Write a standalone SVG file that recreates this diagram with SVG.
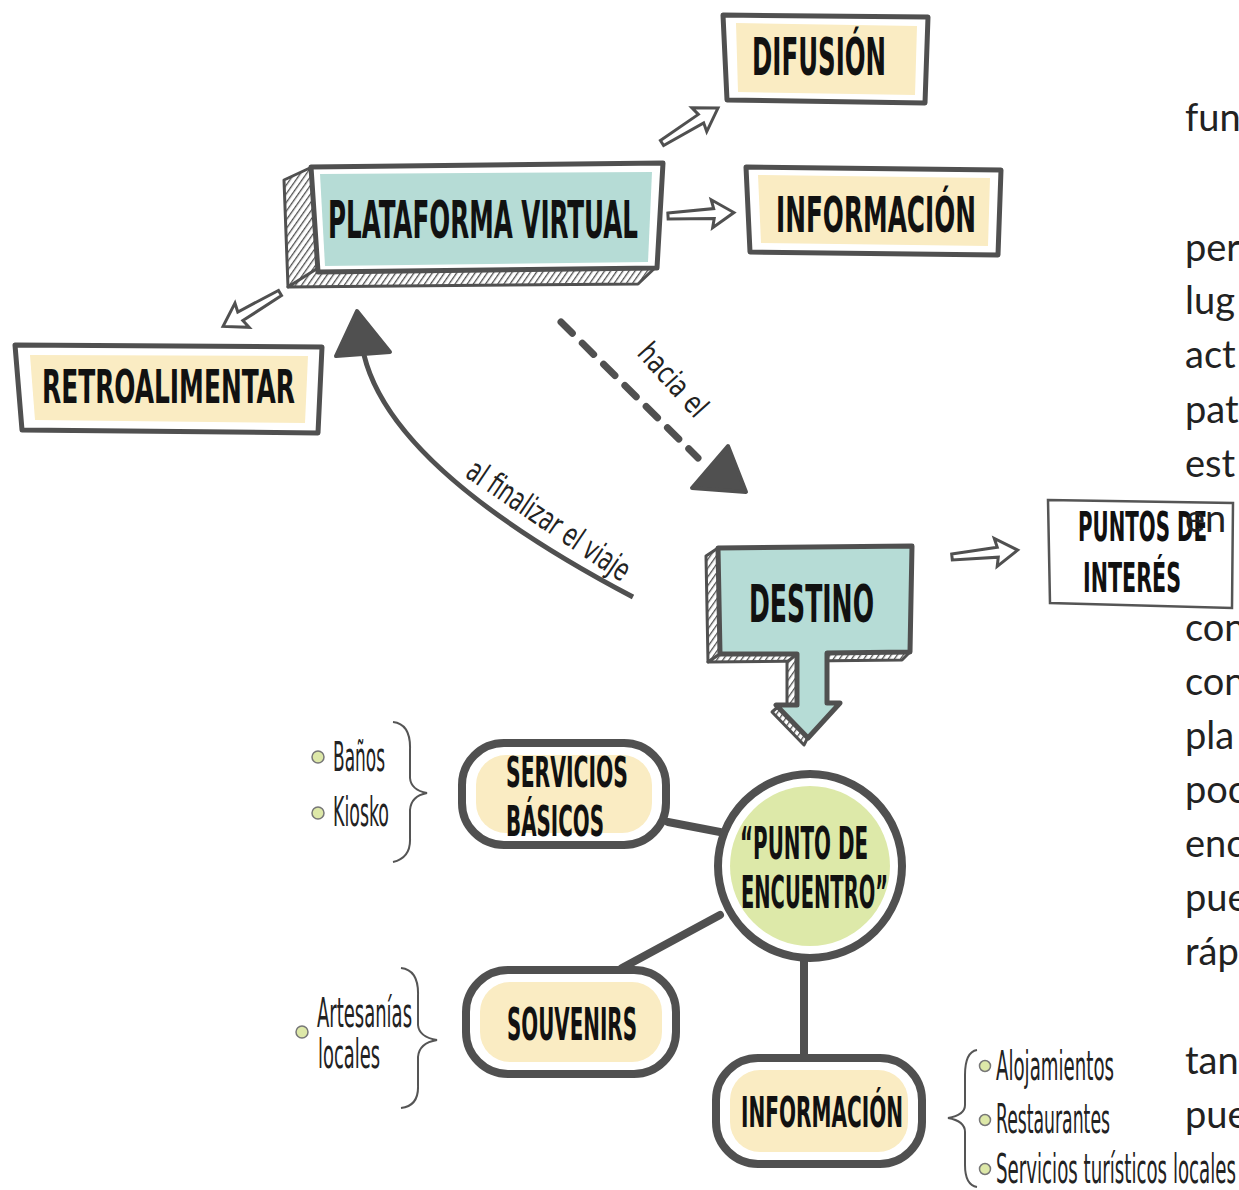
<svg xmlns="http://www.w3.org/2000/svg" width="1239" height="1190" viewBox="0 0 1239 1190">
<style>
.ol{fill:#fff;stroke:#505050;stroke-width:5;stroke-linejoin:round}
.olt{fill:#B6DCD6;stroke:#505050;stroke-width:5;stroke-linejoin:round}
.teal{fill:#B6DCD6}
.beige{fill:#FAECC3}
.hat{fill:url(#hatch);stroke:#505050;stroke-width:3;stroke-linejoin:round}
.lbl{font-family:"Liberation Sans Narrow","DejaVu Sans Condensed","Liberation Sans",sans-serif;font-weight:bold;fill:#111}
.hand{font-family:"Liberation Sans Narrow","DejaVu Sans Condensed","Liberation Sans",sans-serif;fill:#222}
.body{font-family:"Lato","Noto Sans",sans-serif;font-size:38px;fill:#222}
.rn{fill:#fff;stroke:#505050;stroke-width:8}
.con{stroke:#505050;stroke-width:8;fill:none;stroke-linecap:round}
.harrow{fill:#fff;stroke:#505050;stroke-width:3;stroke-linejoin:miter}
.brace{fill:none;stroke:#555;stroke-width:2}
.bul{fill:#DDE8A8;stroke:#777;stroke-width:1.5}
</style>
<defs>
<pattern id="hatch" patternUnits="userSpaceOnUse" width="5" height="5" patternTransform="rotate(35)">
<rect width="5" height="5" fill="#fff"/>
<line x1="0" y1="0" x2="0" y2="5" stroke="#505050" stroke-width="2.6"/>
</pattern>
<path id="ha" d="M0,-3 L46,-5 L44,-14 L66,0 L44,14 L46,5 L0,3 Z"/>
</defs>

<!-- right body text (clipped) -->
<g id="bodytext" class="body">
<text x="1185" y="131">fun</text>
<text x="1185" y="261">per</text>
<text x="1185" y="314">lug</text>
<text x="1185" y="368">act</text>
<text x="1185" y="423">pat</text>
<text x="1185" y="477">est</text>
<text x="1185" y="641">con</text>
<text x="1185" y="695">con</text>
<text x="1185" y="749">pla</text>
<text x="1185" y="803">poc</text>
<text x="1185" y="857">enc</text>
<text x="1185" y="911">pue</text>
<text x="1185" y="965">ráp</text>
<text x="1185" y="1074">tan</text>
<text x="1185" y="1128">pue</text>
</g>

<g id="connectors">
<use href="#ha" class="harrow" transform="translate(662,143) rotate(-32)"/>
<use href="#ha" class="harrow" transform="translate(668,216) rotate(-3)"/>
<use href="#ha" class="harrow" transform="translate(280,293) rotate(149.6)"/>
<use href="#ha" class="harrow" transform="translate(952,557) rotate(-6)"/>
<!-- dashed -->
<path d="M561,322 L698,458" stroke="#505050" stroke-width="7" stroke-dasharray="16,14" stroke-linecap="round" fill="none"/>
<path d="M728,446 L746,492 L692,488 Z" fill="#505050" stroke="#505050" stroke-width="4" stroke-linejoin="round"/>
<text class="hand" font-size="30" textLength="88" lengthAdjust="spacingAndGlyphs" transform="translate(636,354) rotate(48)">hacia el</text>
<!-- curved -->
<path d="M633,597 Q392,470 364,355" stroke="#505050" stroke-width="5" fill="none"/>
<path d="M357,311 L390,352 L336,356 Z" fill="#505050" stroke="#505050" stroke-width="4" stroke-linejoin="round"/>
<text class="hand" font-size="32" textLength="190" lengthAdjust="spacingAndGlyphs" transform="translate(464,476) rotate(34)">al finalizar el viaje</text>
<!-- punto connectors -->
<line class="con" x1="668" y1="822" x2="720" y2="832"/>
<line class="con" x1="622" y1="968" x2="720" y2="915"/>
<line class="con" x1="804" y1="960" x2="804" y2="1058"/>
</g>

<g id="plataforma">
<polygon class="hat" points="284,180 312,167 318,270 288,287"/>
<polygon class="hat" points="288,287 318,268 657,266 638,284"/>
<polygon class="ol" points="311,167 663,163 657,268 318,272"/>
<polygon class="teal" points="320,174 652,172 648,262 325,266"/>
<text class="lbl" x="328" y="238" font-size="52" textLength="310" lengthAdjust="spacingAndGlyphs">PLATAFORMA VIRTUAL</text>
</g>

<g id="difusion">
<polygon class="ol" points="723,15 928,17 925,103 727,100"/>
<polygon class="beige" points="736,23 917,26 915,95 738,92"/>
<text class="lbl" x="752" y="75" font-size="51" textLength="134" lengthAdjust="spacingAndGlyphs">DIFUSIÓN</text>
</g>

<g id="informacion-top">
<polygon class="ol" points="746,167 1001,170 998,255 750,252"/>
<polygon class="beige" points="758,175 990,178 988,246 761,243"/>
<text class="lbl" x="776" y="232" font-size="50" textLength="200" lengthAdjust="spacingAndGlyphs">INFORMACIÓN</text>
</g>

<g id="retroalimentar">
<polygon class="ol" points="15,345 322,347 318,433 22,430"/>
<polygon class="beige" points="30,355 308,356 305,423 35,420"/>
<text class="lbl" x="42" y="403" font-size="46" textLength="253" lengthAdjust="spacingAndGlyphs">RETROALIMENTAR</text>
</g>

<g id="destino">
<polygon class="hat" points="706,556 718,548 720,654 708,662"/>
<polygon class="hat" points="708,662 720,654 910,652 902,660"/>
<polygon class="hat" points="787,662 797,654 797,705 787,712"/>
<polygon class="hat" points="772,712 780,705 808,737 804,745"/>
<polygon class="olt" points="718,548 912,546 910,652 827,653 827,703 840,703 808,738 776,705 797,705 797,654 720,654"/>
<text class="lbl" x="749" y="622" font-size="51" textLength="125" lengthAdjust="spacingAndGlyphs">DESTINO</text>
</g>

<g id="puntos">
<polygon points="1048,500 1233,503 1232,608 1050,603" fill="#fff" stroke="#555" stroke-width="2.5"/>
<text class="lbl" x="1078" y="541" font-size="40" textLength="129" lengthAdjust="spacingAndGlyphs">PUNTOS DE</text>
<text class="lbl" x="1083" y="592" font-size="40" textLength="98" lengthAdjust="spacingAndGlyphs">INTERÉS</text>
</g>
<text class="body" x="1185" y="532">en</text>

<g id="punto-encuentro">
<circle class="rn" cx="810" cy="866" r="92"/>
<circle cx="810" cy="866" r="80" fill="#DDE9A9"/>
<text class="lbl" x="740" y="859" font-size="44" textLength="128" lengthAdjust="spacingAndGlyphs">“PUNTO DE</text>
<text class="lbl" x="741" y="908" font-size="44" textLength="147" lengthAdjust="spacingAndGlyphs">ENCUENTRO”</text>
</g>

<g id="servicios">
<rect class="rn" x="462" y="743" width="204" height="102" rx="42"/>
<rect class="beige" x="476" y="755" width="176" height="78" rx="30"/>
<text class="lbl" x="506" y="787" font-size="42" textLength="122" lengthAdjust="spacingAndGlyphs">SERVICIOS</text>
<text class="lbl" x="506" y="836" font-size="42" textLength="98" lengthAdjust="spacingAndGlyphs">BÁSICOS</text>
</g>

<g id="souvenirs">
<rect class="rn" x="466" y="970" width="210" height="104" rx="42"/>
<rect class="beige" x="480" y="982" width="182" height="80" rx="30"/>
<text class="lbl" x="507" y="1040" font-size="44" textLength="130" lengthAdjust="spacingAndGlyphs">SOUVENIRS</text>
</g>

<g id="informacion-bottom">
<rect class="rn" x="716" y="1058" width="206" height="106" rx="42"/>
<rect class="beige" x="730" y="1070" width="178" height="82" rx="30"/>
<text class="lbl" x="741" y="1127" font-size="43" textLength="162" lengthAdjust="spacingAndGlyphs">INFORMACIÓN</text>
</g>

<g id="list-servicios">
<path class="brace" d="M393,722 Q411,724 410,750 L410,778 Q411,790 427,793 Q411,796 410,810 L410,838 Q411,858 393,862"/>
<circle class="bul" cx="318" cy="757" r="6"/>
<circle class="bul" cx="318" cy="813" r="6"/>
<text class="hand" x="333" y="771" font-size="40" textLength="52" lengthAdjust="spacingAndGlyphs">Baños</text>
<text class="hand" x="333" y="826" font-size="40" textLength="56" lengthAdjust="spacingAndGlyphs">Kiosko</text>
</g>

<g id="list-souvenirs">
<path class="brace" d="M401,968 Q419,970 418,996 L418,1025 Q419,1037 437,1040 Q419,1043 418,1057 L418,1085 Q419,1106 401,1108"/>
<circle class="bul" cx="302" cy="1032" r="6"/>
<text class="hand" x="317" y="1027" font-size="40" textLength="95" lengthAdjust="spacingAndGlyphs">Artesanías</text>
<text class="hand" x="318" y="1068" font-size="40" textLength="62" lengthAdjust="spacingAndGlyphs">locales</text>
</g>

<g id="list-informacion">
<path class="brace" d="M977,1050 Q965,1052 965,1075 L965,1105 Q965,1115 948,1118 Q965,1121 965,1132 L965,1165 Q965,1185 977,1187"/>
<circle class="bul" cx="985" cy="1066" r="5.5"/>
<circle class="bul" cx="985" cy="1120" r="5.5"/>
<circle class="bul" cx="985" cy="1169" r="5.5"/>
<text class="hand" x="996" y="1080" font-size="40" textLength="118" lengthAdjust="spacingAndGlyphs">Alojamientos</text>
<text class="hand" x="996" y="1133" font-size="40" textLength="114" lengthAdjust="spacingAndGlyphs">Restaurantes</text>
<text class="hand" x="996" y="1183" font-size="40" textLength="240" lengthAdjust="spacingAndGlyphs">Servicios turísticos locales</text>
</g>
</svg>
